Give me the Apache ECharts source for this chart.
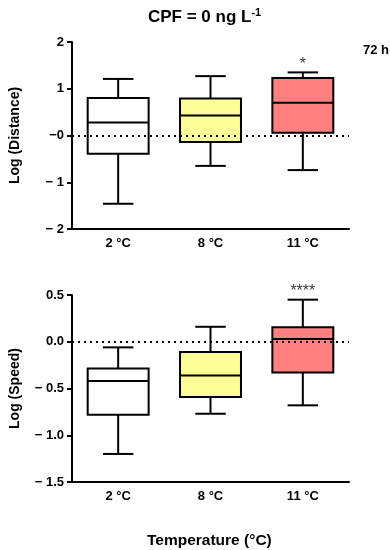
<!DOCTYPE html>
<html><head><meta charset="utf-8">
<script src="https://cdn.jsdelivr.net/npm/echarts@6/dist/echarts.min.js"></script>
<style>html,body{margin:0;padding:0;background:#fff}#c{width:390px;height:550px}</style>
</head><body><div id="c"></div>
<script>
var categories = ['2 °C', '8 °C', '11 °C'];
// Log (Distance): whisker min, Q1, median, Q3, whisker max
var distMin = [-1.46, -0.65, -0.74];
var distQ1  = [-0.39, -0.14, 0.06];
var distMed = [0.28, 0.43, 0.70];
var distQ3  = [0.80, 0.79, 1.23];
var distMax = [1.21, 1.27, 1.35];
var distSig = ['', '', '*'];
// Log (Speed)
var speedMin = [-1.20, -0.77, -0.68];
var speedQ1  = [-0.78, -0.59, -0.33];
var speedMed = [-0.42, -0.36, 0.03];
var speedQ3  = [-0.285, -0.11, 0.155];
var speedMax = [-0.06, 0.16, 0.45];
var speedSig = ['', '', '****'];

var boxColors = ['#ffffff', '#ffff99', '#ff8080'];
var FONT = '"Liberation Sans", Arial, sans-serif';

function rows(mn, q1, md, q3, mx, sig) {
  return categories.map(function (c, i) { return [i, mn[i], q1[i], md[i], q3[i], mx[i], sig[i]]; });
}

function renderBox(params, api) {
  var i = api.value(0);
  var band = api.size([1, 0])[0];
  var bw = band * 0.66, cw = bw / 2;
  var pMin = api.coord([i, api.value(1)]);
  var pQ1 = api.coord([i, api.value(2)]);
  var pMd = api.coord([i, api.value(3)]);
  var pQ3 = api.coord([i, api.value(4)]);
  var pMax = api.coord([i, api.value(5)]);
  var cx = pMin[0];
  var st = { stroke: '#000', lineWidth: 2, fill: null };
  return { type: 'group', children: [
    { type: 'line', shape: { x1: cx, y1: pQ3[1], x2: cx, y2: pMax[1] }, style: st },
    { type: 'line', shape: { x1: cx, y1: pQ1[1], x2: cx, y2: pMin[1] }, style: st },
    { type: 'line', shape: { x1: cx - cw / 2, y1: pMax[1], x2: cx + cw / 2, y2: pMax[1] }, style: st },
    { type: 'line', shape: { x1: cx - cw / 2, y1: pMin[1], x2: cx + cw / 2, y2: pMin[1] }, style: st },
    { type: 'rect', shape: { x: cx - bw / 2, y: pQ3[1], width: bw, height: pQ1[1] - pQ3[1] },
      style: { fill: boxColors[i], stroke: '#000', lineWidth: 2 } },
    { type: 'line', shape: { x1: cx - bw / 2, y1: pMd[1], x2: cx + bw / 2, y2: pMd[1] }, style: st }
  ] };
}

function fmtDist(v) { return v < 0 ? '\u2212 ' + (-v) : (v === 0 ? '\u22120' : String(v)); }
function fmtSpeed(v) { return v < 0 ? '\u2212 ' + (-v).toFixed(1) : v.toFixed(1); }

var axisLine = { onZero: false, lineStyle: { color: '#000', width: 2 } };
var axisTick = { length: 5, lineStyle: { color: '#000', width: 2 } };
var labelStyle = { color: '#000', fontFamily: FONT, fontWeight: 'bold', fontSize: 13 };

function xAxis(gi) {
  return {
    type: 'category', gridIndex: gi, data: categories,
    axisLine: axisLine, axisTick: { alignWithLabel: true, length: 5, lineStyle: { color: '#000', width: 2 } },
    axisLabel: Object.assign({ margin: 8 }, labelStyle),
    splitLine: { show: false }
  };
}

function sigLabels(data) {
  return data.filter(function (d) { return d[6]; }).map(function (d) {
    return { value: [d[0], d[5]], label: d[6] };
  });
}

var distData = rows(distMin, distQ1, distMed, distQ3, distMax, distSig);
var speedData = rows(speedMin, speedQ1, speedMed, speedQ3, speedMax, speedSig);

function sigSeries(xi, yi, data) {
  return {
    type: 'scatter', xAxisIndex: xi, yAxisIndex: yi, symbolSize: 0, silent: true, z: 5,
    data: sigLabels(data).map(function (s) {
      return { value: s.value, label: { show: true, formatter: s.label, position: 'top', distance: 0,
        color: '#000', fontFamily: FONT, fontSize: 16 } };
    })
  };
}

var zeroLine = {
  silent: true, symbol: ['none', 'none'], label: { show: false },
  lineStyle: { type: [2, 4], color: '#000', width: 2 },
  data: [{ yAxis: 0 }]
};

var nameStyle = { fontFamily: FONT, fontWeight: 'bold', fontSize: 14, color: '#000' };

var option = {
  animation: false,
  backgroundColor: '#fff',
  title: [
    { text: 'CPF = 0 ng L{s|-1}', left: 143, top: 2,
      textStyle: { fontFamily: FONT, fontWeight: 'bold', fontSize: 17, color: '#000',
        rich: { s: { fontFamily: FONT, fontWeight: 'bold', fontSize: 11, color: '#000', verticalAlign: 'top', padding: [0, 0, 9, 0] } } } },
    { text: '72 h', left: 358, top: 39,
      textStyle: { fontFamily: FONT, fontWeight: 'bold', fontSize: 13, color: '#000' } },
    { text: 'Temperature (°C)', left: 142, top: 528,
      textStyle: { fontFamily: FONT, fontWeight: 'bold', fontSize: 15.5, color: '#000' } }
  ],
  grid: [
    { left: 70, right: 41, top: 42, height: 187 },
    { left: 70, right: 41, top: 295, height: 187 }
  ],
  xAxis: [xAxis(0), xAxis(1)],
  yAxis: [
    { type: 'value', gridIndex: 0, min: -2, max: 2, interval: 1,
      name: 'Log (Distance)', nameLocation: 'middle', nameGap: 50, nameRotate: 90,
      nameTextStyle: nameStyle,
      axisLine: Object.assign({ show: true }, axisLine), axisTick: Object.assign({ show: true }, axisTick),
      splitLine: { show: false },
      axisLabel: Object.assign({ formatter: fmtDist, margin: 8 }, labelStyle) },
    { type: 'value', gridIndex: 1, min: -1.5, max: 0.5, interval: 0.5,
      name: 'Log (Speed)', nameLocation: 'middle', nameGap: 50, nameRotate: 90,
      nameTextStyle: nameStyle,
      axisLine: Object.assign({ show: true }, axisLine), axisTick: Object.assign({ show: true }, axisTick),
      splitLine: { show: false },
      axisLabel: Object.assign({ formatter: fmtSpeed, margin: 8 }, labelStyle) }
  ],
  series: [
    { type: 'custom', xAxisIndex: 0, yAxisIndex: 0, renderItem: renderBox,
      encode: { x: 0, y: [1, 2, 3, 4, 5] }, data: distData, markLine: zeroLine, z: 3 },
    { type: 'custom', xAxisIndex: 1, yAxisIndex: 1, renderItem: renderBox,
      encode: { x: 0, y: [1, 2, 3, 4, 5] }, data: speedData, markLine: zeroLine, z: 3 },
    sigSeries(0, 0, distData),
    sigSeries(1, 1, speedData)
  ]
};
var chart = echarts.init(document.getElementById('c'), null, { renderer: 'canvas' });
chart.setOption(option);
</script></body></html>
